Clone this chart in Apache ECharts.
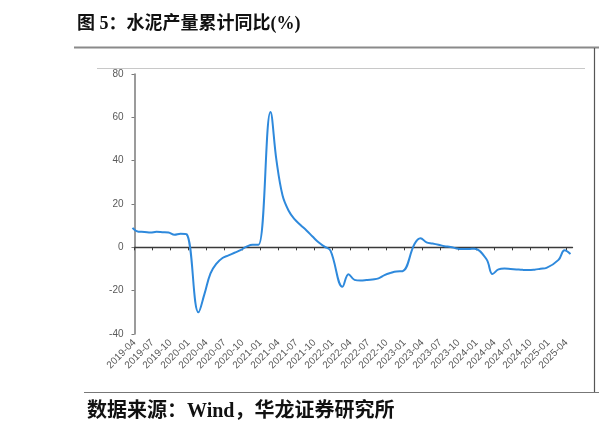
<!DOCTYPE html>
<html>
<head>
<meta charset="utf-8">
<script src="https://cdn.jsdelivr.net/npm/echarts@6/dist/echarts.min.js"></script>
<style>
html,body{margin:0;padding:0;background:#fff;}
#c{width:599px;height:441px;}
</style>
</head>
<body>
<div id="c"></div>
<script>
const titleText = '图 5：水泥产量累计同比(%)';
const sourceText = '数据来源：Wind，华龙证券研究所';
const months = [
'2019-04','2019-05','2019-06','2019-07','2019-08','2019-09','2019-10','2019-11','2019-12',
'2020-01','2020-02','2020-03','2020-04','2020-05','2020-06','2020-07','2020-08','2020-09','2020-10','2020-11','2020-12',
'2021-01','2021-02','2021-03','2021-04','2021-05','2021-06','2021-07','2021-08','2021-09','2021-10','2021-11','2021-12',
'2022-01','2022-02','2022-03','2022-04','2022-05','2022-06','2022-07','2022-08','2022-09','2022-10','2022-11','2022-12',
'2023-01','2023-02','2023-03','2023-04','2023-05','2023-06','2023-07','2023-08','2023-09','2023-10','2023-11','2023-12',
'2024-01','2024-02','2024-03','2024-04','2024-05','2024-06','2024-07','2024-08','2024-09','2024-10','2024-11','2024-12',
'2025-01','2025-02','2025-03','2025-04','2025-05'
];
const cementYoY = [
9.0, 7.2, 7.1, 6.8, 7.2, 7.0, 6.8, 5.8, 6.3,
6.1, null, -30.0, -21.5, -12.0, -7.5, -4.9, -3.7, -2.5, -1.3, 0.3, 1.2,
1.2, null, 62.5, 40.0, 24.0, 17.0, 13.0, 10.3, 7.8, 5.0, 2.3, 0.3,
-1.5, null, -18.2, -12.4, -15.0, -15.3, -15.1, -14.8, -14.3, -12.8, -11.8, -11.1,
-11.0, null, 1.5, 4.2, 2.3, 1.8, 1.2, 0.5, 0.2, -0.5, -0.8, -0.8,
-0.6, null, -5.5, -12.3, -10.2, -9.8, -10.0, -10.2, -10.4, -10.5, -10.3, -9.9,
-9.5, null, -5.8, -1.4, -3.1
];
const yMin = -40, yMax = 80, yStep = 20;

const chart = echarts.init(document.getElementById('c'), null, {renderer:'canvas'});
const cjkSerif = '"Liberation Serif","Noto Sans CJK SC",serif';
const axisFont = '"Liberation Sans", Arial, sans-serif';
chart.setOption({
  animation:false,
  backgroundColor:'#ffffff',
  grid:[
    {left:134.5, right:26.5, top:74, bottom:107, containLabel:false},
    {left:132.5, right:28.5, top:74, bottom:107, containLabel:false}
  ],
  xAxis:[{
    gridIndex:0, type:'category', data:months, boundaryGap:false, position:'bottom',
    axisLine:{show:false, onZero:false}, axisTick:{show:false},
    axisLabel:{interval:2, rotate:45, fontSize:10, color:'#595959', margin:7, fontFamily:axisFont}
  },{
    gridIndex:0, type:'category', data:months, boundaryGap:false, position:'bottom',
    axisLine:{show:true, onZero:true, lineStyle:{color:'#3a3a3a', width:1.3}},
    axisTick:{show:true, interval:2, length:3, lineStyle:{color:'#3a3a3a'}},
    axisLabel:{show:false}
  },{
    gridIndex:1, type:'category', data:months, boundaryGap:false, show:false
  }],
  yAxis:[{
    gridIndex:0, type:'value', min:yMin, max:yMax, interval:yStep,
    axisLine:{show:true, lineStyle:{color:'#7a7a7a', width:1.5}},
    axisTick:{show:true, length:3, lineStyle:{color:'#7a7a7a'}},
    splitLine:{show:false},
    axisLabel:{fontSize:10, color:'#595959', margin:11, fontFamily:axisFont}
  },{
    gridIndex:1, type:'value', min:yMin, max:yMax, interval:yStep, show:false, splitLine:{show:false}
  }],
  series:[{
    type:'line', xAxisIndex:2, yAxisIndex:1, data:cementYoY, connectNulls:true, smooth:0.4,
    showSymbol:false, symbol:'none', z:1,
    lineStyle:{color:'#2e89dc', width:2}
  }],
  graphic:[
    {type:'text', left:77, top:15, style:{text:titleText, font:'bold 18px '+cjkSerif, fill:'#111'}},
    {type:'line', shape:{x1:74, y1:47.5, x2:599, y2:47.5}, style:{stroke:'#8a8a8a', lineWidth:2}},
    {type:'line', shape:{x1:97, y1:68.5, x2:585, y2:68.5}, style:{stroke:'#c8c8c8', lineWidth:1}},
    {type:'line', shape:{x1:594.5, y1:48, x2:594.5, y2:392}, style:{stroke:'#555', lineWidth:1.2}},
    {type:'line', shape:{x1:84, y1:392.5, x2:599, y2:392.5}, style:{stroke:'#777', lineWidth:1.2}},
    {type:'text', left:87, top:402, style:{text:sourceText, font:'bold 20px '+cjkSerif, fill:'#111'}}
  ]
});
</script>
</body>
</html>
